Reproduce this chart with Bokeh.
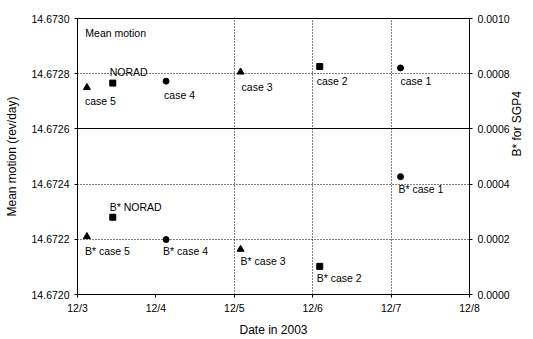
import math
from bokeh.plotting import figure
from bokeh.models import (Range1d, LinearAxis, FixedTicker, NumeralTickFormatter,
                          Grid, ColumnDataSource, Label)
from bokeh.embed import file_html
from bokeh.resources import INLINE
from bokeh.core.properties import value

# ---------------- data (x = day of December 2003) ----------------
epoch_day = [3.12, 3.45, 4.13, 5.08, 6.09, 7.12]
mean_motion = [14.67275, 14.672766, 14.672773, 14.672806, 14.672826, 14.672821]
bstar = [0.00021, 0.00028, 0.000199, 0.000164, 0.000102, 0.000427]
mm_labels = ["case 5", "NORAD", "case 4", "case 3", "case 2", "case 1"]
bstar_labels = ["B* case 5", "B* NORAD", "B* case 4", "B* case 3", "B* case 2", "B* case 1"]
x_ticks = [3, 4, 5, 6, 7, 8]
x_tick_labels = ["12/3", "12/4", "12/5", "12/6", "12/7", "12/8"]
left_ticks = [14.6720, 14.6722, 14.6724, 14.6726, 14.6728, 14.6730]
right_ticks = [0.0, 0.0002, 0.0004, 0.0006, 0.0008, 0.0010]

# ---------------- styles ----------------
markers = ["triangle", "square", "circle", "triangle", "square", "circle"]
marker_sizes = [7, 6, 6, 7, 6, 6]
mm_dx = [-2, -3, -2, 1, -3, 0]
mm_dy = [7.5, -17.5, 7.5, 8.5, 8, 7]
b_dx = [-2, -3, -3, 0, -3, -2]
b_dy = [8, -16, 5, 6, 6, 6]
FONT = "Liberation Sans"

p = figure(width=533, height=339, x_range=Range1d(3, 8),
           y_range=Range1d(14.6720, 14.6730),
           output_backend="svg", toolbar_location=None,
           min_border_left=77, min_border_right=60,
           min_border_top=18, min_border_bottom=40)
p.extra_y_ranges = {"b": Range1d(0.0, 0.0010)}

p.outline_line_color = "black"
p.outline_line_width = 1
p.background_fill_color = "white"
p.border_fill_color = "white"

def style_axis(ax):
    ax.axis_line_color = "black"
    ax.major_tick_line_color = "black"
    ax.major_tick_out = 3
    ax.major_tick_in = 0
    ax.minor_tick_out = 0
    ax.minor_tick_in = 0
    ax.major_label_text_font = FONT
    ax.major_label_text_font_size = "10.5px"
    ax.major_label_text_color = "black"
    ax.major_label_standoff = 5
    ax.axis_label_text_font = FONT
    ax.axis_label_text_font_size = "12px"
    ax.axis_label_text_font_style = "normal"
    ax.axis_label_text_color = "black"
    ax.axis_label_standoff = 10

xa = p.xaxis[0]
style_axis(xa)
xa.ticker = FixedTicker(ticks=x_ticks)
xa.major_label_overrides = dict(zip(x_ticks, x_tick_labels))
xa.axis_label = "Date in 2003"
xa.major_label_standoff = 4
xa.axis_label_standoff = 6

ya = p.yaxis[0]
style_axis(ya)
ya.ticker = FixedTicker(ticks=left_ticks)
ya.formatter = NumeralTickFormatter(format="0.0000")
ya.axis_label = "Mean motion (rev/day)"

ra = LinearAxis(y_range_name="b", axis_label="B* for SGP4")
style_axis(ra)
ra.ticker = FixedTicker(ticks=right_ticks)
ra.formatter = NumeralTickFormatter(format="0.0000")
ra.axis_label_standoff = 4
ra.axis_label_orientation = math.pi / 2
p.add_layout(ra, "right")

# grids
p.xgrid.ticker = FixedTicker(ticks=x_ticks[2:5])
p.xgrid.grid_line_color = "black"
p.xgrid.grid_line_dash = "1 2"
p.xgrid.grid_line_width = 1
p.ygrid.ticker = FixedTicker(ticks=[left_ticks[1], left_ticks[2], left_ticks[4]])
p.ygrid.grid_line_color = "black"
p.ygrid.grid_line_dash = "1 2"
p.ygrid.grid_line_width = 1
p.add_layout(Grid(dimension=1, ticker=FixedTicker(ticks=[left_ticks[3]]),
                  grid_line_color="black", grid_line_width=1.2))

# data sources
src_mm = ColumnDataSource(dict(x=epoch_day, y=mean_motion, label=mm_labels,
                               marker=markers, size=marker_sizes, dx=mm_dx, dy=mm_dy))
src_b = ColumnDataSource(dict(x=epoch_day, y=bstar, label=bstar_labels,
                              marker=markers, size=marker_sizes, dx=b_dx, dy=b_dy))

p.scatter(x="x", y="y", marker="marker", size="size", fill_color="black",
          line_color="black", source=src_mm)
p.scatter(x="x", y="y", marker="marker", size="size", fill_color="black",
          line_color="black", source=src_b, y_range_name="b")

p.text(x="x", y="y", text="label", x_offset="dx", y_offset="dy", source=src_mm,
       text_font=value(FONT), text_font_size="10.5px", text_color="black",
       text_align="left", text_baseline="top")
p.text(x="x", y="y", text="label", x_offset="dx", y_offset="dy", source=src_b,
       y_range_name="b",
       text_font=value(FONT), text_font_size="10.5px", text_color="black",
       text_align="left", text_baseline="top")

p.add_layout(Label(x=3.1, y=14.672946, text="Mean motion", text_font=FONT,
                   text_font_size="10.5px", text_color="black",
                   text_baseline="middle", text_align="left"))

open("out.html", "w").write(file_html(p, INLINE))
